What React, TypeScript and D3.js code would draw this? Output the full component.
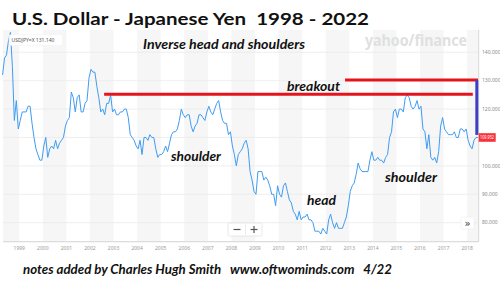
import * as d3 from "d3";

// USD/JPY, monthly values (Apr 1998 .. Jun 2018)
const START_YEAR = 1998;
const START_MONTH = 4;
const USDJPY: number[] = [
  // 1998 (Apr-Dec)
  132, 138, 139, 144, 147, 135, 116, 123, 113,
  // 1999
  116, 119, 119, 119, 121, 121, 115, 110, 106, 104, 102, 102,
  // 2000
  107, 110, 103, 106, 107, 106, 109, 106, 108, 109, 110, 114,
  // 2001
  116, 117, 126, 124, 119, 124, 125, 119, 119, 122, 123, 131,
  // 2002
  134, 133, 133, 128, 124, 119, 120, 118, 122, 122, 125, 119,
  // 2003
  120, 118, 118, 119, 119, 120, 120, 117, 111, 110, 109, 107,
  // 2004
  106, 109, 104, 110, 110, 109, 111, 110, 110, 106, 103, 104,
  // 2005
  104, 105, 107, 105, 108, 111, 112, 112, 113, 116, 120, 118,
  // 2006
  117, 118, 118, 114, 112, 114, 115, 118, 118, 117, 116, 119,
  // 2007
  121, 119, 118, 120, 122, 123, 119, 116, 115, 115, 111, 112,
  // 2008
  107, 104, 100, 104, 105, 106, 108, 109, 106, 98, 95, 91,
  // 2009
  90, 98, 98, 98, 95, 96, 95, 93, 90, 90, 86, 93,
  // 2010
  90, 89, 93, 94, 91, 88, 87, 84, 83, 81, 84, 81,
  // 2011
  82, 82, 83, 81, 81, 80, 77, 77, 77, 76, 78, 77,
  // 2012
  76, 81, 83, 80, 78, 80, 78, 78, 78, 80, 82, 86,
  // 2013
  91, 93, 94, 97, 101, 99, 98, 98, 98, 98, 102, 105,
  // 2014
  102, 102, 103, 102, 102, 101, 103, 104, 110, 112, 119, 120,
  // 2015
  117, 120, 120, 119, 124, 125, 124, 121, 120, 121, 123, 120,
  // 2016
  121, 113, 112, 106, 111, 103, 102, 103, 101, 105, 114, 117,
  // 2017
  113, 112, 111, 111, 111, 112, 110, 110, 113, 113, 112, 113,
  // 2018 (Jan-Jun)
  109, 107, 106, 109, 110, 110,
];

const YEAR_TICKS = d3.range(1999, 2019);
const PRICE_TICKS = [80, 90, 100, 110, 120, 130, 140];
const LAST_LEVEL = 110;
const LAST_PRICE = "109.952";
const QUOTE_LABEL = "USDJPY=X  131.140";

// annotation lines: [from year, to year, level]
const NECKLINE: [number, number, number] = [2002.6, 2018.24, 125.2];
const BREAKOUT: [number, number, number] = [2012.82, 2018.46, 130.2];
// vertical move: [year, from level, to level]
const MOVE: [number, number, number] = [2018.41, 130.2, 110.9];

const NOTES = [
  { text: "Inverse head and shoulders", x: 143, y: 49, w: 162 },
  { text: "breakout", x: 287, y: 90.5, w: 53 },
  { text: "shoulder", x: 171, y: 160.5, w: 50 },
  { text: "head", x: 307, y: 205, w: 29 },
  { text: "shoulder", x: 385, y: 181.5, w: 52 },
];

const FONT = "Lato, 'Open Sans', sans-serif";
const SMALL = "'Noto Sans', sans-serif";

const points = USDJPY.map((v, i) => ({
  t: START_YEAR + (START_MONTH - 1 + i + 0.5) / 12,
  v,
}));

export default function App() {
  const W = 500;
  const H = 285;
  const plot = { left: 3, right: 478.7, top: 30, bottom: 241.7 };

  const x = d3.scaleLinear().domain([1998.31, 2018.49]).range([plot.left, plot.right]);
  const y = d3.scaleLinear().domain([73.3, 147.85]).range([plot.bottom, plot.top]);

  const line = d3
    .line<{ t: number; v: number }>()
    .x((d) => x(d.t))
    .y((d) => y(d.v));

  const bandYears = d3.range(1998, 2019, 2);

  return (
    <div style={{ position: "absolute", left: 0, top: 0, background: "#fff" }}>
      <svg width={W} height={H} style={{ display: "block" }}>
        <rect width={W} height={H} fill="#fff" />

        {/* alternating year bands */}
        {bandYears.map((yr) => {
          const x0 = Math.max(plot.left, x(yr));
          const x1 = Math.min(plot.right, x(yr + 1));
          return (
            <rect
              key={yr}
              x={x0}
              y={plot.top}
              width={Math.max(0, x1 - x0)}
              height={plot.bottom - plot.top}
              fill="#f6f6f6"
            />
          );
        })}

        {/* horizontal grid */}
        {PRICE_TICKS.map((p) => (
          <line
            key={p}
            x1={plot.left}
            x2={plot.right}
            y1={y(p)}
            y2={y(p)}
            stroke="#ebebeb"
            strokeWidth={0.8}
          />
        ))}

        {/* axis frame */}
        <line x1={plot.left} x2={plot.right} y1={plot.bottom} y2={plot.bottom} stroke="#dcdcdc" strokeWidth={1.2} />
        <line x1={plot.right} x2={plot.right} y1={plot.top} y2={plot.bottom} stroke="#d8d8d8" strokeWidth={1} />

        {/* year labels */}
        {YEAR_TICKS.map((yr) => (
          <text key={yr} x={x(yr)} y={250} textAnchor="middle" fontSize={5} fill="#9a9a9a" fontFamily={SMALL}>
            {yr}
          </text>
        ))}

        {/* price labels (the one under the last-price badge is hidden) */}
        {PRICE_TICKS.filter((p) => p !== LAST_LEVEL).map((p) => (
          <text key={p} x={482} y={y(p) + 1.8} fontSize={5} fill="#8a8a8a" fontFamily={SMALL}>
            {p.toFixed(3)}
          </text>
        ))}

        {/* price line */}
        <path d={line(points) ?? ""} fill="none" stroke="#3f9cf3" strokeWidth={1} strokeLinejoin="round" />

        {/* quote label */}
        <rect x={9} y={34.5} width={54} height={11} rx={1.5} fill="#fff" opacity={0.95} stroke="#eee" strokeWidth={0.5} />
        <text x={11.5} y={41.8} fontSize={5} fill="#555" fontFamily={SMALL}>
          {QUOTE_LABEL}
        </text>

        {/* watermark */}
        <text
          x={365}
          y={45.5}
          fontSize={16}
          fontWeight={700}
          fill="#e0e0e0"
          fontFamily={SMALL}
          textLength={102}
          lengthAdjust="spacingAndGlyphs"
        >
          yahoo/finance
        </text>

        {/* annotations */}
        <line x1={x(NECKLINE[0])} x2={x(NECKLINE[1])} y1={y(NECKLINE[2])} y2={y(NECKLINE[2])} stroke="#e5141c" strokeWidth={3} />
        <line x1={x(BREAKOUT[0])} x2={x(BREAKOUT[1])} y1={y(BREAKOUT[2])} y2={y(BREAKOUT[2])} stroke="#e5141c" strokeWidth={3} />
        <line x1={x(MOVE[0])} x2={x(MOVE[0])} y1={y(MOVE[1])} y2={y(MOVE[2])} stroke="#3c3fc4" strokeWidth={3} />

        {/* last price badge */}
        <rect x={plot.right} y={y(LAST_LEVEL) - 4.3} width={17} height={8.6} fill="#f7323a" />
        <text
          x={480}
          y={y(LAST_LEVEL) + 1.7}
          fontSize={4.8}
          fill="#fff"
          fontFamily={SMALL}
          textLength={14}
          lengthAdjust="spacingAndGlyphs"
        >
          {LAST_PRICE}
        </text>

        {/* zoom controls */}
        <rect x={228} y={223} width={34} height={13} rx={1.5} fill="#fff" stroke="#e2e2e2" strokeWidth={0.8} />
        <line x1={245.5} x2={245.5} y1={224.5} y2={234.5} stroke="#e5e5e5" strokeWidth={0.8} />
        <line x1={233.5} x2={240.5} y1={229.5} y2={229.5} stroke="#555" strokeWidth={1.2} />
        <line x1={250.5} x2={257.5} y1={229.5} y2={229.5} stroke="#555" strokeWidth={1.2} />
        <line x1={254} x2={254} y1={226} y2={233} stroke="#555" strokeWidth={1.2} />
        <rect x={461} y={217} width={13} height={12} rx={1.5} fill="#fff" stroke="#ececec" strokeWidth={0.6} />
        <text x={467.5} y={226.5} textAnchor="middle" fontSize={10} fill="#333" fontFamily="'DejaVu Sans', sans-serif">
          »
        </text>

        {/* title */}
        <text
          x={12}
          y={24.5}
          fontSize={17.5}
          fontWeight={700}
          fill="#111"
          fontFamily={FONT}
          textLength={357}
          lengthAdjust="spacingAndGlyphs"
          style={{ whiteSpace: "pre" }}
        >
          {"U.S. Dollar - Japanese Yen  1998 - 2022"}
        </text>

        {NOTES.map((n, i) => (
          <text
            key={i}
            x={n.x}
            y={n.y}
            fontSize={14}
            fontWeight={700}
            fontStyle="italic"
            fill="#111"
            fontFamily={FONT}
            textLength={n.w}
            lengthAdjust="spacingAndGlyphs"
          >
            {n.text}
          </text>
        ))}

        <text
          x={23}
          y={273.5}
          fontSize={14}
          fontWeight={700}
          fontStyle="italic"
          fill="#111"
          fontFamily={FONT}
          textLength={369}
          lengthAdjust="spacingAndGlyphs"
          style={{ whiteSpace: "pre" }}
        >
          {"notes added by Charles Hugh Smith   www.oftwominds.com   4/22"}
        </text>
      </svg>
    </div>
  );
}
